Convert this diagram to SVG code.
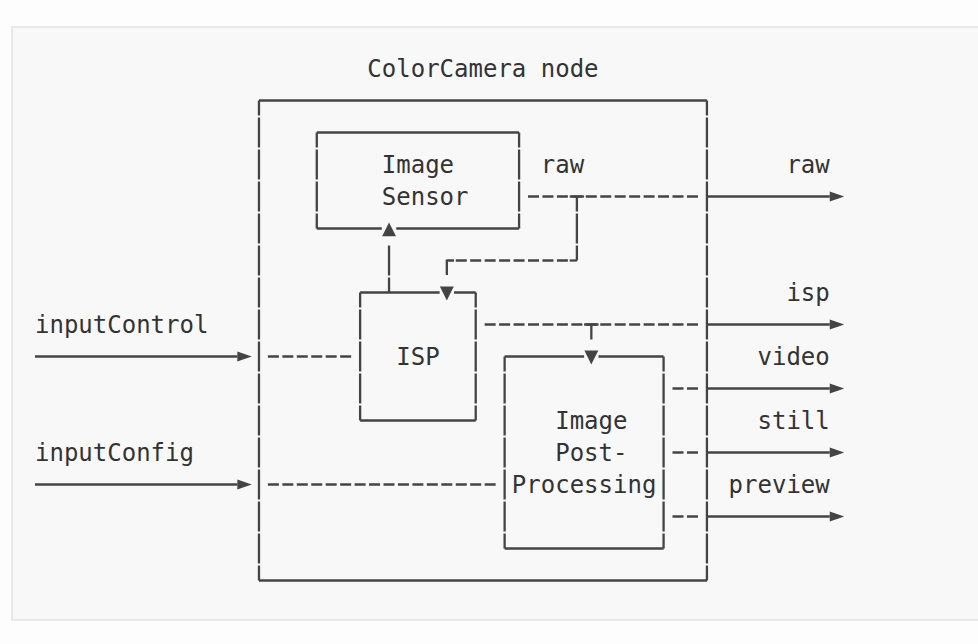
<svg xmlns="http://www.w3.org/2000/svg" width="978" height="644" viewBox="0 0 978 644">
  <style>
    text { font-family: "DejaVu Sans Mono", "Liberation Mono", monospace; font-size: 24px; fill: #333333; }
    .ln { stroke: #444444; stroke-width: 2.3; fill: none; }
    .v { stroke: #444444; stroke-width: 2.3; fill: none; stroke-dasharray: 30 2; stroke-dashoffset: 15; }
    .d { stroke: #444444; stroke-width: 2.3; fill: none; stroke-dasharray: 11 3.45; }
    .ah { fill: #444444; stroke: none; }
  </style>
  <defs>
    <polygon id="arrowR" points="0,-5 14.45,0 0,5"/>
  </defs>
  <rect x="0" y="0" width="978" height="644" fill="#fdfdfd"/>
  <rect x="12" y="27" width="990" height="593" fill="#f8f8f8" stroke="#e0e3e0" stroke-width="1.5"/>

  <g id="colorcamera-node">
    <text x="367.35" y="76.5">ColorCamera node</text>
    <path class="ln" d="M258.98,100.5 H706.93 M258.98,580.5 H706.93"/>
    <path class="v" d="M258.98,100.5 V580.5 M706.93,100.5 V580.5"/>
  </g>

  <g id="image-sensor">
    <path class="ln" d="M316.78,132.5 H519.08 M316.78,228.5 H381.8 M396.25,228.5 H519.08"/>
    <path class="v" d="M316.78,132.5 V228.5 M519.08,132.5 V228.5"/>
    <text x="381.8" y="172.5">Image</text>
    <text x="381.8" y="204.5">Sensor</text>
  </g>

  <g id="isp">
    <path class="ln" d="M360.13,292.5 H439.6 M454.05,292.5 H475.73 M360.13,420.5 H475.73"/>
    <path class="v" d="M360.13,292.5 V420.5 M475.73,292.5 V420.5"/>
    <text x="396.25" y="364.5">ISP</text>
  </g>

  <g id="image-post-processing">
    <path class="ln" d="M504.63,356.5 H584.1 M598.55,356.5 H663.58 M504.63,548.5 H663.58"/>
    <path class="v" d="M504.63,356.5 V548.5 M663.58,356.5 V548.5"/>
    <text x="555.2" y="428.5">Image</text>
    <text x="555.2" y="460.5">Post-</text>
    <text x="511.85" y="492.5">Processing</text>
  </g>

  <g id="connectors">
    <!-- ISP to Image Sensor -->
    <path class="v" d="M389.03,292.5 V244.5"/>
    <polygon class="ah" points="389.03,222.4 396,236.2 382.1,236.2"/>
    <!-- raw feedback to ISP -->
    <path class="d" d="M528,196.5 H697.95"/>
    <path class="ln" d="M569.65,196.5 H584.1"/>
    <path class="v" d="M576.88,196.5 V260.5"/>
    <path class="ln" d="M569.65,260.5 H576.88"/>
    <path class="d" d="M455.75,260.5 H567.9"/>
    <path class="ln" d="M446.83,260.5 H454.05 M446.83,259.4 V275"/>
    <polygon class="ah" points="439.9,286.5 453.8,286.5 446.83,300.4"/>
    <!-- isp to post-processing -->
    <path class="d" d="M484.65,324.5 H697.95"/>
    <path class="ln" d="M584.1,324.5 H598.55 M591.33,324.5 V339.5"/>
    <polygon class="ah" points="584.4,350.5 598.3,350.5 591.33,364.4"/>
    <!-- inputs -->
    <path class="ln" d="M35,356.5 H237.3"/>
    <use href="#arrowR" class="ah" x="237.3" y="356.5"/>
    <path class="d" d="M267.9,356.5 H351.15"/>
    <path class="ln" d="M35,484.5 H237.3"/>
    <use href="#arrowR" class="ah" x="237.3" y="484.5"/>
    <path class="d" d="M267.9,484.5 H495.65"/>
    <!-- post-processing outputs -->
    <path class="d" d="M672.5,388.5 H697.95 M672.5,452.5 H697.95 M672.5,516.5 H697.95"/>
    <!-- outputs -->
    <path class="ln" d="M706.93,196.5 H829.75 M706.93,324.5 H829.75 M706.93,388.5 H829.75 M706.93,452.5 H829.75 M706.93,516.5 H829.75"/>
    <use href="#arrowR" class="ah" x="829.75" y="196.5"/>
    <use href="#arrowR" class="ah" x="829.75" y="324.5"/>
    <use href="#arrowR" class="ah" x="829.75" y="388.5"/>
    <use href="#arrowR" class="ah" x="829.75" y="452.5"/>
    <use href="#arrowR" class="ah" x="829.75" y="516.5"/>
  </g>

  <g id="labels">
    <text x="540.75" y="172.5">raw</text>
    <text x="786.4" y="172.5">raw</text>
    <text x="786.4" y="300.5">isp</text>
    <text x="757.5" y="364.5">video</text>
    <text x="757.5" y="428.5">still</text>
    <text x="728.6" y="492.5">preview</text>
    <text x="35" y="332.5">inputControl</text>
    <text x="35" y="460.5">inputConfig</text>
  </g>
</svg>
